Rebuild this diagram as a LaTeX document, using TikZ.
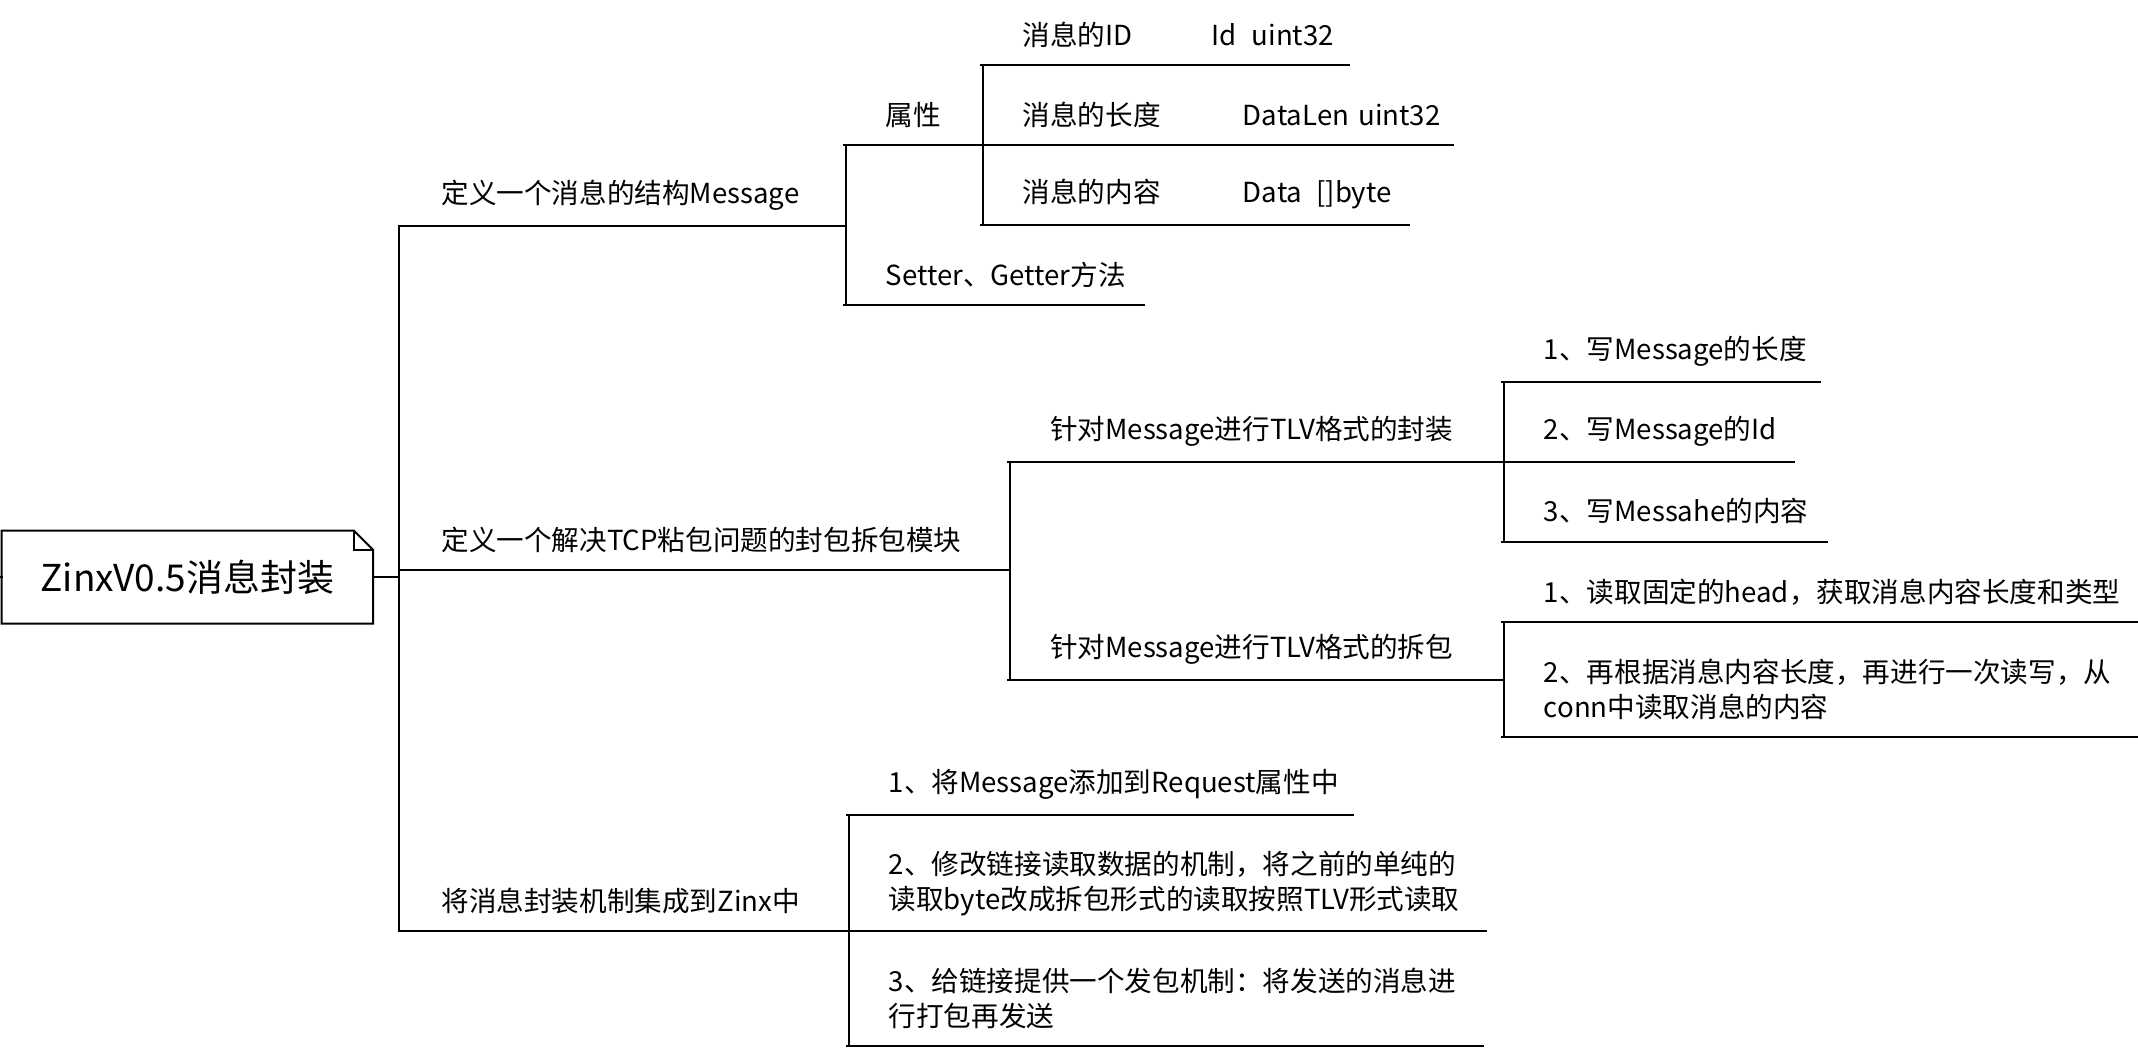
\documentclass[tikz,border=0pt]{standalone}
\usepackage{fontspec}
\setmainfont{Noto Sans CJK SC}
\newcommand\zstrut{\rule[-0.15em]{0pt}{1em}}
\begin{document}
\begin{tikzpicture}[x=1.3678pt,y=-1.3678pt,line width=2pt,line cap=rect,
  every node/.style={font=\fontsize{27.6pt}{35pt}\selectfont},
  item/.style={anchor=south west,inner xsep=41.04pt,inner ysep=14.6pt,
    text width={(#1-60)*1.3678pt},align=left,
    execute at begin node=\zstrut,execute at end node=\zstrut},
  rootbox/.style={minimum width=270*1.3678pt,minimum height=66.5*1.3678pt,inner sep=0pt,
    font=\fontsize{37pt}{44pt}\selectfont}]
\path[use as bounding box] (0pt,0pt) rectangle (2138pt,-1060pt);

% root
\node[rootbox] (root) at (137,422) {ZinxV0.5消息封装};
\draw (root.south west) -- (root.south east) -- ([yshift=-19pt]root.north east)
  -- ([xshift=-19pt]root.north east) -- (root.north west) -- cycle;
\draw ([xshift=-19pt]root.north east) |- ([yshift=-19pt]root.north east);
\coordinate (stub) at (0,422);

% level 1
\node[item=325] (b1) at (292,165) {\mbox{定义一个消息的结构Message}};
\node[item=445] (b2) at (292,417) {\mbox{定义一个解决TCP粘包问题的封包拆包模块}};
\node[item=327] (b3) at (292,681) {\mbox{将消息封装机制集成到Zinx中}};

% level 2
\node[item=100] (a1) at (617,106) {\mbox{属性}};
\node[item=218] (a2) at (617,223) {\mbox{Setter、Getter方法}};
\node[item=361] (c1) at (737,338) {\mbox{针对Message进行TLV格式的封装}};
\node[item=361] (c2) at (737,497) {\mbox{针对Message进行TLV格式的拆包}};
\node[item=369] (f1) at (619,596) {\mbox{1、将Message添加到Request属性中}};
\node[item=466] (f2) at (619,681) {\mbox{2、修改链接读取数据的机制，将之前的单纯的}\\\mbox{读取byte改成拆包形式的读取按照TLV形式读取}};
\node[item=464] (f3) at (619,765) {\mbox{3、给链接提供一个发包机制：将发送的消息进}\\\mbox{行打包再发送}};

% level 3
\node[item=268] (m1) at (717,47.5) {\mbox{\makebox[188.8pt][l]{消息的ID}Id\hspace{15pt}uint32}};
\node[item=344] (m2) at (717,106) {\mbox{\makebox[220.2pt][l]{消息的长度}DataLen~uint32}};
\node[item=312] (m3) at (717,164.5) {\mbox{\makebox[220.2pt][l]{消息的内容}Data\hspace{14pt}[]byte}};
\node[item=231] (d1) at (1098,279) {\mbox{1、写Message的长度}};
\node[item=212] (d2) at (1098,338) {\mbox{2、写Message的Id}};
\node[item=236] (d3) at (1098,396) {\mbox{3、写Messahe的内容}};
\node[item=463] (e1) at (1098,455) {\mbox{1、读取固定的head，获取消息内容长度和类型}};
\node[item=463] (e2) at (1098,539) {\mbox{2、再根据消息内容长度，再进行一次读写，从}\\\mbox{conn中读取消息的内容}};

% underlines
\foreach \n in {b1,b2,b3,a1,a2,c1,c2,f1,f2,f3,m1,m2,m3,d1,d2,d3,e1,e2}
  \draw (\n.south west) -- (\n.south east);

% connectors
\draw (stub) -- (root.west);
\foreach \c in {b1,b2,b3} \draw (root.east) -| (\c.south west);
\foreach \c in {a1,a2} \draw (b1.south east) |- (\c.south west);
\foreach \c in {m1,m2,m3} \draw (a1.south east) |- (\c.south west);
\foreach \c in {c1,c2} \draw (b2.south east) |- (\c.south west);
\foreach \c in {d1,d2,d3} \draw (c1.south east) |- (\c.south west);
\foreach \c in {e1,e2} \draw (c2.south east) |- (\c.south west);
\foreach \c in {f1,f2,f3} \draw (b3.south east) |- (\c.south west);
\end{tikzpicture}
\end{document}
